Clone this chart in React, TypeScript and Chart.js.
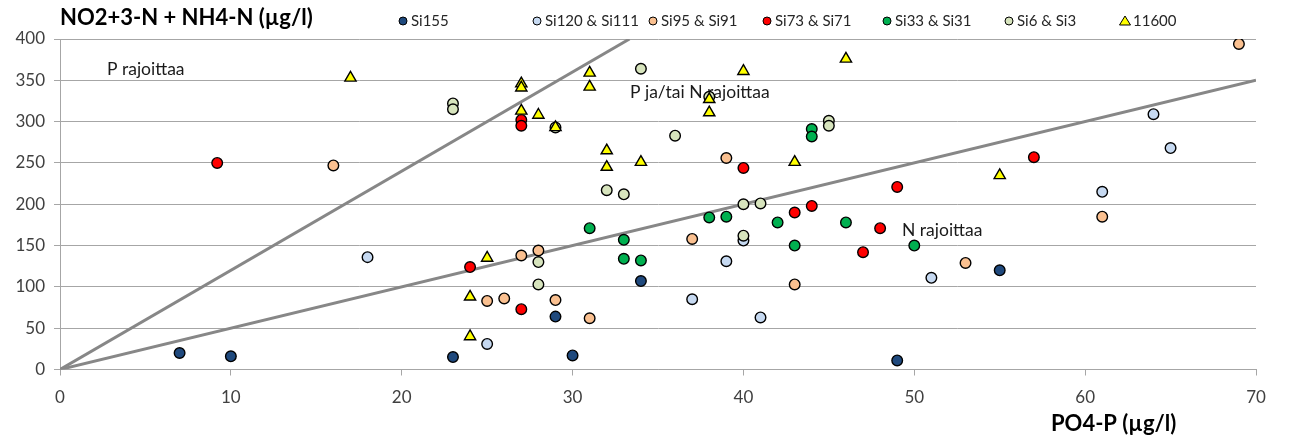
import React, { useEffect, useRef } from 'react';
import { Chart, registerables } from 'chart.js';

Chart.register(...registerables);

const FONT = 'Lato, "Noto Sans", sans-serif';

// Axis tick values
const xTickValues = [0, 10, 20, 30, 40, 50, 60, 70];
const yTickValues = [0, 50, 100, 150, 200, 250, 300, 350, 400];

// Series names
const seriesNames = ['Si155', 'Si120 & Si111', 'Si95 & Si91', 'Si73 & Si71', 'Si33 & Si31', 'Si6 & Si3', '11600'];

// Data: [PO4-P, NO2+3-N + NH4-N]
const si155: number[][] = [[7, 20], [10, 16], [23, 15], [30, 17], [29, 64], [34, 107], [49, 11], [55, 120]];
const si120: number[][] = [[18, 136], [25, 31], [37, 85], [39, 131], [40, 156], [41, 63], [51, 111], [61, 215], [64, 309], [65, 268]];
const si95: number[][] = [[16, 247], [25, 83], [26, 86], [27, 138], [28, 144], [29, 84], [31, 62], [37, 158], [39, 256], [43, 103], [53, 129], [61, 185], [69, 394]];
const si73: number[][] = [[9.2, 250], [24, 124], [27, 73], [27, 302], [27, 295], [40, 244], [43, 190], [44, 198], [47, 142], [48, 171], [49, 221], [57, 257]];
const si33: number[][] = [[31, 171], [33, 157], [33, 134], [34, 132], [38, 184], [39, 185], [42, 178], [43, 150], [44, 291], [44, 282], [46, 178], [50, 150]];
const si6: number[][] = [[23, 322], [23, 315], [28, 130], [28, 103], [29, 293], [32, 217], [33, 212], [34, 364], [36, 283], [38, 330], [40, 200], [40, 162], [41, 201], [45, 301], [45, 295]];
const s11600: number[][] = [[17, 353], [24, 88], [24, 40], [25, 135], [27, 346], [27, 341], [27, 313], [28, 308], [29, 293], [31, 359], [31, 342], [32, 265], [32, 245], [34, 251], [38, 327], [38, 311], [40, 361], [43, 251], [46, 376], [55, 235]];

// Reference lines N:P = 12 and N:P = 5
const pLimitLine: number[][] = [[0, 0], [33.33, 400]];
const nLimitLine: number[][] = [[0, 0], [70, 350]];

// Region labels (anchored at data coordinates)
const regionLabels = [
  { text: 'P rajoittaa', x: 2.75, y: 363 },
  { text: 'P ja/tai N rajoittaa', x: 33.36, y: 336 },
  { text: 'N rajoittaa', x: 49.28, y: 169 },
];

const seriesData = [si155, si120, si95, si73, si33, si6, s11600];
const seriesColors = ['#1F497D', '#C6D9F1', '#FAC090', '#FF0000', '#00B050', '#D7E4BD', '#FFFF00'];
const legendX = [403, 537, 653, 767, 887, 1009, 1125];

const toXY = (arr: number[][]) => arr.map(([x, y]) => ({ x, y }));

const textPlugin = {
  id: 'textPlugin',
  beforeDatasetsDraw(chart: any) {
    const { ctx, scales } = chart;
    ctx.save();
    ctx.font = `17.5px ${FONT}`;
    ctx.fillStyle = '#1a1a1a';
    ctx.textBaseline = 'middle';
    ctx.textAlign = 'left';
    regionLabels.forEach((l) => {
      ctx.fillText(l.text, scales.x.getPixelForValue(l.x), scales.y.getPixelForValue(l.y));
    });
    ctx.restore();
  },
  afterDraw(chart: any) {
    const { ctx } = chart;
    ctx.save();
    ctx.textBaseline = 'middle';
    ctx.textAlign = 'left';
    ctx.fillStyle = '#000';
    ctx.font = `bold 22px ${FONT}`;
    ctx.fillText('NO2+3-N + NH4-N (µg/l)', 60, 18);
    ctx.fillText('PO4-P (µg/l)', 1051, 424);

    ctx.font = `15px ${FONT}`;
    seriesNames.forEach((name, i) => {
      const mx = legendX[i];
      const my = 21;
      ctx.fillStyle = seriesColors[i];
      ctx.strokeStyle = '#000';
      ctx.lineWidth = 1;
      ctx.beginPath();
      if (i === 6) {
        ctx.moveTo(mx, my - 5);
        ctx.lineTo(mx + 5.5, my + 4);
        ctx.lineTo(mx - 5.5, my + 4);
        ctx.closePath();
      } else {
        ctx.arc(mx, my, 4, 0, Math.PI * 2);
      }
      ctx.fill();
      ctx.stroke();
      ctx.fillStyle = '#262626';
      ctx.fillText(name, mx + 8, my);
    });
    ctx.restore();
  },
};

export default function App() {
  const ref = useRef<HTMLCanvasElement>(null);
  useEffect(() => {
    document.body.style.margin = '0';
    if (!ref.current) return;
    const datasets: any[] = [
      {
        label: 'P line',
        data: toXY(pLimitLine),
        showLine: true,
        borderColor: '#878787',
        borderWidth: 3,
        pointRadius: 0,
        order: 20,
      },
      {
        label: 'N line',
        data: toXY(nLimitLine),
        showLine: true,
        borderColor: '#878787',
        borderWidth: 3,
        pointRadius: 0,
        order: 20,
      },
      ...seriesNames.map((name, i) => ({
        label: name,
        data: toXY(seriesData[i]),
        backgroundColor: seriesColors[i],
        borderColor: '#000',
        borderWidth: 1.4,
        pointStyle: i === 6 ? 'triangle' : 'circle',
        pointRadius: i === 6 ? 6.5 : 5.3,
        order: 10 - i,
      })),
    ];
    const chart = new Chart(ref.current, {
      type: 'scatter',
      data: { datasets },
      options: {
        animation: false,
        responsive: false,
        layout: { padding: { top: 39, right: 45, left: 0, bottom: 0 } },
        plugins: { legend: { display: false }, tooltip: { enabled: false } },
        scales: {
          x: {
            type: 'linear',
            min: 0,
            max: 70,
            afterBuildTicks: (s: any) => {
              s.ticks = xTickValues.map((v) => ({ value: v }));
            },
            afterFit: (s: any) => {
              s.height = 71.5;
            },
            ticks: { font: { family: FONT, size: 17 }, color: '#404040', padding: 12, maxRotation: 0, autoSkip: false },
            grid: { drawOnChartArea: false, tickLength: 6, color: '#a6a6a6' },
            border: { color: '#a6a6a6' },
          },
          y: {
            type: 'linear',
            min: 0,
            max: 400,
            afterBuildTicks: (s: any) => {
              s.ticks = yTickValues.map((v) => ({ value: v }));
            },
            afterFit: (s: any) => {
              s.width = 60;
            },
            ticks: { font: { family: FONT, size: 17 }, color: '#404040', padding: 9, autoSkip: false },
            grid: { tickLength: 6, color: '#a6a6a6' },
            border: { color: '#a6a6a6' },
          },
        },
      },
      plugins: [textPlugin],
    });
    return () => chart.destroy();
  }, []);
  return <canvas ref={ref} width={1301} height={441} style={{ display: 'block' }} />;
}
